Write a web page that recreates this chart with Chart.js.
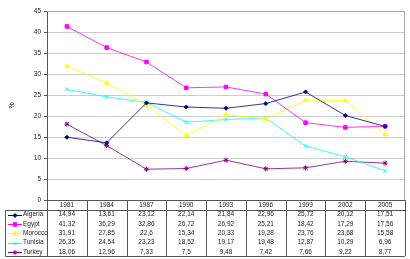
<!DOCTYPE html>
<html>
<head>
<meta charset="utf-8">
<script src="https://cdn.jsdelivr.net/npm/chart.js@4"></script>
<style>
  html, body { margin: 0; padding: 0; background: #fff; }
  #wrap { width: 410px; height: 259px; }
</style>
</head>
<body>
<div id="wrap"><canvas id="chart" width="410" height="259"></canvas></div>
<script>
const years = ['1981', '1984', '1987', '1990', '1993', '1996', '1999', '2002', '2005'];
const algeria = [14.94, 13.61, 23.12, 22.14, 21.84, 22.96, 25.72, 20.12, 17.51];
const egypt = [41.32, 36.29, 32.86, 26.72, 26.92, 25.21, 18.42, 17.29, 17.56];
const morocco = [31.91, 27.85, 22.6, 15.34, 20.33, 19.28, 23.76, 23.68, 15.58];
const tunisia = [26.35, 24.54, 23.23, 18.52, 19.17, 19.48, 12.87, 10.29, 6.96];
const turkey = [18.06, 12.96, 7.33, 7.5, 9.48, 7.42, 7.66, 9.22, 8.77];
const yTicks = [0, 5, 10, 15, 20, 25, 30, 35, 40, 45];

const FONT = '"Liberation Sans", Arial, sans-serif';

function series(label, data, color, style, radius) {
    return {
        label, data,
        borderColor: color,
        backgroundColor: color,
        borderWidth: 0.8,
        pointStyle: style,
        pointRadius: radius,
        pointBorderWidth: 1,
        tension: 0
    };
}

// draws the data table under the plot, columns taken from the x scale
const tablePlugin = {
    id: 'dataTable',
    afterDraw(chart) {
        const ctx = chart.ctx;
        const x = chart.scales.x;
        const area = chart.chartArea;
        const step = x.getPixelForValue(1) - x.getPixelForValue(0);
        const top = area.bottom;
        const headH = 9.5;
        const rowH = 9.3;
        const rows = chart.data.datasets;
        const bottom = top + headH + rowH * rows.length;
        const left = 5;

        ctx.save();
        // plot frame
        ctx.strokeStyle = '#a8a8a8';
        ctx.lineWidth = 1;
        ctx.beginPath();
        ctx.moveTo(area.left, area.top + 0.5);
        ctx.lineTo(area.right - 0.5, area.top + 0.5);
        ctx.lineTo(area.right - 0.5, area.bottom);
        ctx.stroke();

        ctx.strokeStyle = '#555';
        ctx.beginPath();
        for (let i = 0; i <= years.length; i++) {
            const cx = Math.round(x.getPixelForValue(0) - step / 2 + i * step) + 0.5;
            ctx.moveTo(cx, top);
            ctx.lineTo(cx, bottom);
        }
        const hy = Math.round(top + headH) + 0.5;
        ctx.moveTo(left + 0.5, hy);
        ctx.lineTo(area.right, hy);
        ctx.moveTo(left + 0.5, hy);
        ctx.lineTo(left + 0.5, Math.round(bottom) + 0.5);
        ctx.lineTo(area.right, Math.round(bottom) + 0.5);
        ctx.stroke();

        ctx.fillStyle = '#222';
        ctx.font = '6.5px ' + FONT;
        ctx.textAlign = 'center';
        ctx.textBaseline = 'middle';
        years.forEach((y, i) => {
            ctx.fillText(y, x.getPixelForValue(i), top + headH / 2 + 0.5);
        });

        rows.forEach((ds, r) => {
            const cy = top + headH + rowH * r + rowH / 2 + 0.5;
            ctx.fillStyle = '#222';
            ctx.textAlign = 'center';
            ds.data.forEach((v, i) => {
                ctx.fillText(String(v).replace('.', ','), x.getPixelForValue(i), cy);
            });
            // legend key
            const ky = Math.round(cy) + 0.5;
            ctx.strokeStyle = ds.borderColor;
            ctx.fillStyle = ds.borderColor;
            ctx.beginPath();
            ctx.moveTo(8, ky);
            ctx.lineTo(22, ky);
            ctx.stroke();
            Chart.helpers.drawPoint(ctx, {
                pointStyle: ds.pointStyle, radius: ds.pointRadius, borderWidth: 1
            }, 15, ky);
            ctx.fillStyle = '#222';
            ctx.textAlign = 'left';
            ctx.fillText(ds.label, 23, cy);
        });
        ctx.restore();
    }
};

new Chart(document.getElementById('chart'), {
    type: 'line',
    data: {
        labels: years,
        datasets: [
            series('Algeria', algeria, '#000080', 'rectRot', 2),
            series('Egypt', egypt, '#ff00ff', 'rect', 2.5),
            series('Morocco', morocco, '#ffff00', 'triangle', 2.5),
            series('Tunisia', tunisia, '#00ffff', 'crossRot', 2.5),
            series('Turkey', turkey, '#800080', 'star', 2.5)
        ]
    },
    options: {
        responsive: false,
        animation: false,
        layout: { padding: { top: 11, right: 3, bottom: 59, left: 0 } },
        plugins: {
            legend: { display: false },
            tooltip: { enabled: false }
        },
        scales: {
            x: {
                offset: true,
                grid: { display: false },
                border: { display: true, color: '#555' },
                ticks: { display: false },
                afterFit: s => { s.height = 0; }
            },
            y: {
                min: 0,
                max: 45,
                afterBuildTicks: s => { s.ticks = yTicks.map(v => ({ value: v })); },
                grid: { color: '#cccccc', tickLength: 3, tickColor: '#555' },
                border: { display: true, color: '#555' },
                ticks: { font: { family: FONT, size: 6.5 }, color: '#222', padding: 3 },
                title: { display: true, text: '%', font: { family: FONT, size: 7 }, color: '#222', padding: { top: 8 } },
                afterFit: s => { s.width = 47; }
            }
        }
    },
    plugins: [tablePlugin]
});
</script>
</body>
</html>
